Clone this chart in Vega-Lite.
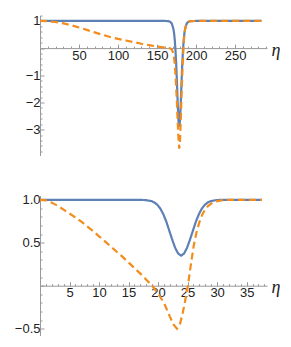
{
  "$schema": "https://vega.github.io/schema/vega-lite/v6.json",
  "padding": {"left": 14, "top": 9.5, "right": 0, "bottom": 0},
  "background": "white",
  "spacing": 35,
  "config": {
    "view": {"stroke": null},
    "axis": {
      "grid": false,
      "labelFont": "Liberation Sans",
      "labelFontSize": 13,
      "labelColor": "#222",
      "domainColor": "#999",
      "tickColor": "#999",
      "domainWidth": 1,
      "tickWidth": 1,
      "labelFlush": false,
      "labelOverlap": false
    },
    "line": {"strokeWidth": 2.2}
  },
  "datasets": {
    "top": [
      {"s":"a","x":0,"y":1},{"s":"a","x":100,"y":1},{"s":"a","x":160,"y":0.999},{"s":"a","x":163.3,"y":0.995},{"s":"a","x":165.2,"y":0.986},{"s":"a","x":167.1,"y":0.96},{"s":"a","x":169,"y":0.9},{"s":"a","x":170.9,"y":0.72},{"s":"a","x":171.85,"y":0.56},{"s":"a","x":172.8,"y":0.29},{"s":"a","x":173.75,"y":-0.11},{"s":"a","x":174.7,"y":-0.64},{"s":"a","x":175.65,"y":-1.33},{"s":"a","x":176.6,"y":-2.07},{"s":"a","x":177.55,"y":-2.67},{"s":"a","x":178.5,"y":-2.9},{"s":"a","x":179.45,"y":-2.67},{"s":"a","x":180.4,"y":-2.07},{"s":"a","x":181.35,"y":-1.33},{"s":"a","x":182.3,"y":-0.64},{"s":"a","x":183.25,"y":-0.11},{"s":"a","x":184.2,"y":0.29},{"s":"a","x":185.15,"y":0.56},{"s":"a","x":186.1,"y":0.72},{"s":"a","x":188,"y":0.9},{"s":"a","x":189.9,"y":0.96},{"s":"a","x":191.8,"y":0.986},{"s":"a","x":193.7,"y":0.995},{"s":"a","x":200,"y":1},{"s":"a","x":284,"y":1},
      {"s":"b","x":0,"y":1},{"s":"b","x":10,"y":0.99},{"s":"b","x":20,"y":0.96},{"s":"b","x":30,"y":0.91},{"s":"b","x":40,"y":0.84},{"s":"b","x":50,"y":0.76},{"s":"b","x":60,"y":0.67},{"s":"b","x":70,"y":0.58},{"s":"b","x":80,"y":0.49},{"s":"b","x":90,"y":0.41},{"s":"b","x":100,"y":0.34},{"s":"b","x":110,"y":0.28},{"s":"b","x":120,"y":0.22},{"s":"b","x":130,"y":0.16},{"s":"b","x":140,"y":0.11},{"s":"b","x":150,"y":0.06},{"s":"b","x":160,"y":0.02},{"s":"b","x":166,"y":0.0},{"s":"b","x":169,"y":-0.05},{"s":"b","x":171,"y":-0.2},{"s":"b","x":172.5,"y":-0.5},{"s":"b","x":173.5,"y":-0.9},{"s":"b","x":174.5,"y":-1.4},{"s":"b","x":175.5,"y":-2.0},{"s":"b","x":176.5,"y":-2.7},{"s":"b","x":177.5,"y":-3.3},{"s":"b","x":178.5,"y":-3.7},{"s":"b","x":179.5,"y":-3.4},{"s":"b","x":180.5,"y":-2.6},{"s":"b","x":181.5,"y":-1.7},{"s":"b","x":182.5,"y":-0.9},{"s":"b","x":183.5,"y":-0.2},{"s":"b","x":184.5,"y":0.3},{"s":"b","x":185.5,"y":0.6},{"s":"b","x":186.5,"y":0.78},{"s":"b","x":188,"y":0.9},{"s":"b","x":190,"y":0.96},{"s":"b","x":193,"y":0.99},{"s":"b","x":200,"y":1},{"s":"b","x":284,"y":1}
    ],
    "bot": [
      {"s":"a","x":0,"y":1},{"s":"a","x":16,"y":1},{"s":"a","x":17.9,"y":0.997},{"s":"a","x":18.9,"y":0.984},{"s":"a","x":19.4,"y":0.968},{"s":"a","x":19.9,"y":0.94},{"s":"a","x":20.4,"y":0.896},{"s":"a","x":20.9,"y":0.83},{"s":"a","x":21.4,"y":0.745},{"s":"a","x":21.9,"y":0.64},{"s":"a","x":22.4,"y":0.535},{"s":"a","x":22.9,"y":0.44},{"s":"a","x":23.4,"y":0.374},{"s":"a","x":23.9,"y":0.35},{"s":"a","x":24.4,"y":0.374},{"s":"a","x":24.9,"y":0.44},{"s":"a","x":25.4,"y":0.535},{"s":"a","x":25.9,"y":0.64},{"s":"a","x":26.4,"y":0.745},{"s":"a","x":26.9,"y":0.83},{"s":"a","x":27.4,"y":0.896},{"s":"a","x":27.9,"y":0.94},{"s":"a","x":28.4,"y":0.968},{"s":"a","x":28.9,"y":0.984},{"s":"a","x":29.9,"y":0.997},{"s":"a","x":31,"y":1},{"s":"a","x":37.6,"y":1},
      {"s":"b","x":0,"y":1},{"s":"b","x":1,"y":0.993},{"s":"b","x":2,"y":0.967},{"s":"b","x":3,"y":0.93},{"s":"b","x":4,"y":0.885},{"s":"b","x":5,"y":0.84},{"s":"b","x":6,"y":0.795},{"s":"b","x":7,"y":0.745},{"s":"b","x":8,"y":0.69},{"s":"b","x":9,"y":0.635},{"s":"b","x":10,"y":0.575},{"s":"b","x":11,"y":0.515},{"s":"b","x":12,"y":0.455},{"s":"b","x":13,"y":0.395},{"s":"b","x":14,"y":0.335},{"s":"b","x":15,"y":0.27},{"s":"b","x":16,"y":0.205},{"s":"b","x":17,"y":0.14},{"s":"b","x":18,"y":0.07},{"s":"b","x":19,"y":0.0},{"s":"b","x":20,"y":-0.09},{"s":"b","x":21,"y":-0.2},{"s":"b","x":22,"y":-0.36},{"s":"b","x":22.6,"y":-0.45},{"s":"b","x":23.2,"y":-0.5},{"s":"b","x":23.7,"y":-0.45},{"s":"b","x":24.2,"y":-0.31},{"s":"b","x":24.6,"y":-0.17},{"s":"b","x":25.05,"y":0.0},{"s":"b","x":25.5,"y":0.22},{"s":"b","x":26,"y":0.45},{"s":"b","x":26.5,"y":0.62},{"s":"b","x":27,"y":0.74},{"s":"b","x":27.5,"y":0.83},{"s":"b","x":28,"y":0.89},{"s":"b","x":28.5,"y":0.93},{"s":"b","x":29,"y":0.955},{"s":"b","x":29.5,"y":0.975},{"s":"b","x":30,"y":0.985},{"s":"b","x":31,"y":0.997},{"s":"b","x":32,"y":1},{"s":"b","x":37.6,"y":1}
    ]
  },
  "vconcat": [
    {
      "width": 227,
      "height": 140,
      "data": {"name": "top"},
      "mark": {"type": "line", "clip": true},
      "encoding": {
        "x": {
          "field": "x", "type": "quantitative",
          "scale": {"domain": [0, 291], "nice": false, "zero": false},
          "axis": {
            "offset": -107.4,
            "values": [10,20,30,40,50,60,70,80,90,100,110,120,130,140,150,160,170,180,190,200,210,220,230,240,250,260,270,280,290],
            "labelExpr": "datum.value % 50 === 0 ? datum.label : ''",
            "tickSize": {"condition": {"test": "datum.value % 50 === 0", "value": -4}, "value": -2},
            "labelPadding": 5,
            "title": "η",
            "titleFont": "Liberation Serif",
            "titleFontStyle": "italic",
            "titleFontWeight": "normal",
            "titleFontSize": 18,
            "titleColor": "#222",
            "titleAngle": 0,
            "titleAlign": "center",
            "titleBaseline": "middle",
            "titleX": 235.5,
            "titleY": 2,
            "titlePadding": 0
          }
        },
        "y": {
          "field": "y", "type": "quantitative",
          "scale": {"domain": [-3.95, 1.2], "nice": false, "zero": false},
          "axis": {
            "values": [-3.8,-3.6,-3.4,-3.2,-3,-2.8,-2.6,-2.4,-2.2,-2,-1.8,-1.6,-1.4,-1.2,-1,-0.8,-0.6,-0.4,-0.2,0,0.2,0.4,0.6,0.8,1,1.2],
            "labelExpr": "abs(datum.value - round(datum.value)) < 0.001 && round(datum.value) != 0 ? format(round(datum.value), 'd') : ''",
            "tickSize": {"condition": {"test": "abs(datum.value - round(datum.value)) < 0.001", "value": -4}, "value": -2},
            "labelPadding": 4,
            "title": null
          }
        },
        "color": {"field": "s", "type": "nominal", "scale": {"domain": ["a","b"], "range": ["#5e81b5", "#f28c1c"]}, "legend": null},
        "strokeDash": {"field": "s", "type": "nominal", "scale": {"domain": ["a","b"], "range": [[1,0],[7,4]]}, "legend": null}
      }
    },
    {
      "width": 227,
      "height": 140,
      "data": {"name": "bot"},
      "mark": {"type": "line", "clip": true},
      "encoding": {
        "x": {
          "field": "x", "type": "quantitative",
          "scale": {"domain": [0, 38.45], "nice": false, "zero": false},
          "axis": {
            "offset": -49.8,
            "values": [1,2,3,4,5,6,7,8,9,10,11,12,13,14,15,16,17,18,19,20,21,22,23,24,25,26,27,28,29,30,31,32,33,34,35,36,37,38],
            "labelExpr": "datum.value % 5 === 0 ? datum.label : ''",
            "tickSize": {"condition": {"test": "datum.value % 5 === 0", "value": -4}, "value": -2},
            "labelPadding": 5,
            "title": "η",
            "titleFont": "Liberation Serif",
            "titleFontStyle": "italic",
            "titleFontWeight": "normal",
            "titleFontSize": 18,
            "titleColor": "#222",
            "titleAngle": 0,
            "titleAlign": "center",
            "titleBaseline": "middle",
            "titleX": 235.5,
            "titleY": 2,
            "titlePadding": 0
          }
        },
        "y": {
          "field": "y", "type": "quantitative",
          "scale": {"domain": [-0.58, 1.05], "nice": false, "zero": false},
          "axis": {
            "values": [-0.5,-0.4,-0.3,-0.2,-0.1,0,0.1,0.2,0.3,0.4,0.5,0.6,0.7,0.8,0.9,1.0],
            "labelExpr": "abs(datum.value*2 - round(datum.value*2)) < 0.001 && abs(datum.value) > 0.001 ? format(datum.value, '.1f') : ''",
            "tickSize": {"condition": {"test": "abs(datum.value*2 - round(datum.value*2)) < 0.001", "value": -4}, "value": -2},
            "labelPadding": 4,
            "title": null
          }
        },
        "color": {"field": "s", "type": "nominal", "scale": {"domain": ["a","b"], "range": ["#5e81b5", "#f28c1c"]}, "legend": null},
        "strokeDash": {"field": "s", "type": "nominal", "scale": {"domain": ["a","b"], "range": [[1,0],[7,4]]}, "legend": null}
      }
    }
  ]
}
